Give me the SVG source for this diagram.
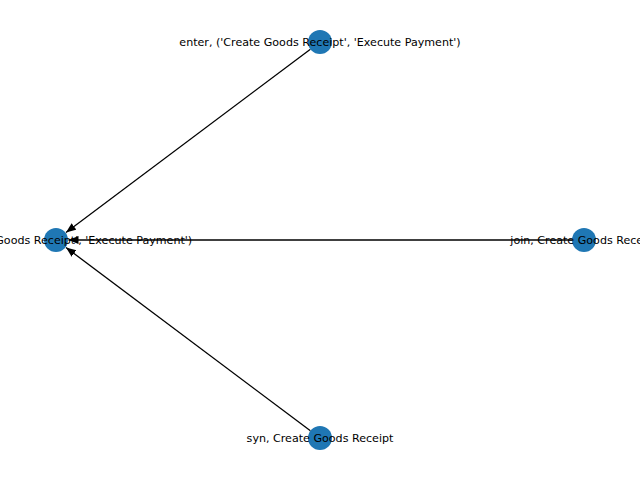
<svg xmlns="http://www.w3.org/2000/svg" width="640" height="480" viewBox="0 0 640 480">
<style>
.edge{stroke:#000;stroke-width:1.3;fill:none}
.node{fill:#1f77b4}
.lbl{font-family:"DejaVu Sans",sans-serif;font-size:11.1px;fill:#000;text-anchor:middle}
</style>
<defs>
<marker id="arr" markerUnits="userSpaceOnUse" markerWidth="12" markerHeight="10" refX="10" refY="4" orient="auto">
<path d="M0,0 L10,4 L0,8 Z" fill="#000"/>
</marker>
</defs>
<rect width="640" height="480" fill="#fff"/>
<g id="edges">
<line class="edge" x1="310.4" y1="49.2" x2="66" y2="232.5" marker-end="url(#arr)"/>
<line class="edge" x1="572" y1="240" x2="68.5" y2="240" marker-end="url(#arr)"/>
<line class="edge" x1="310.4" y1="430.8" x2="66" y2="247.5" marker-end="url(#arr)"/>
</g>
<g id="n_exit">
<circle class="node" cx="56" cy="240" r="12"/>
<text class="lbl" x="56" y="244">exit, ('Create Goods Receipt', 'Execute Payment')</text>
</g>
<g id="n_enter">
<circle class="node" cx="320" cy="42" r="12"/>
<text class="lbl" x="320" y="46">enter, ('Create Goods Receipt', 'Execute Payment')</text>
</g>
<g id="n_join">
<circle class="node" cx="584" cy="240" r="12"/>
<text class="lbl" x="584" y="244">join, Create Goods Receipt</text>
</g>
<g id="n_syn">
<circle class="node" cx="320" cy="438" r="12"/>
<text class="lbl" x="320" y="442">syn, Create Goods Receipt</text>
</g>
</svg>
